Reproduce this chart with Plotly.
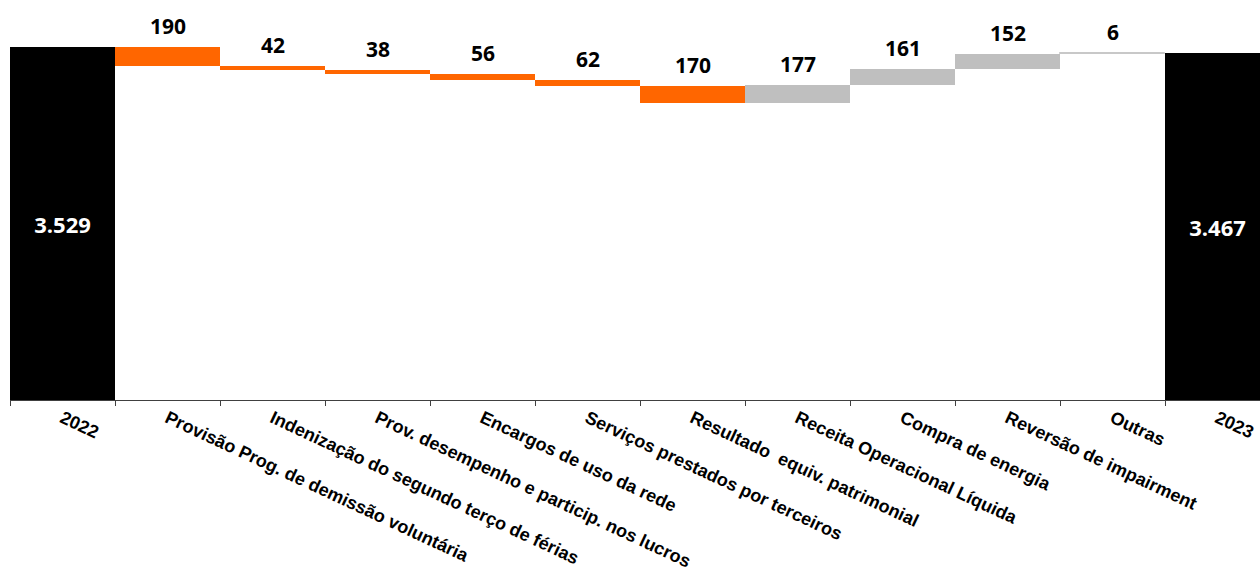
import plotly.graph_objects as go

categories = ["2022", "Provisão Prog. de demissão voluntária",
              "Indenização do segundo terço de férias",
              "Prov. desempenho e particip. nos lucros",
              "Encargos de uso da rede", "Serviços prestados por terceiros",
              "Resultado  equiv. patrimonial", "Receita Operacional Líquida",
              "Compra de energia", "Reversão de impairment", "Outras", "2023"]
values = [3529, -190, -42, -38, -56, -62, -170, 177, 161, 152, 6, 3467]
measures = ["total", "relative", "relative", "relative", "relative", "relative",
            "relative", "relative", "relative", "relative", "relative", "total"]

BLACK, ORANGE, GRAY = "#000000", "#FF6600", "#BFBFBF"

def fmt(v):
    return f"{abs(v):,}".replace(",", ".")

bases, heights, colors, lcolors, lwidths, tops = [], [], [], [], [], []
level = 0
for v, m in zip(values, measures):
    if m == "total":
        level = v
        bases.append(0); heights.append(v); colors.append(BLACK)
        lcolors.append(BLACK); lwidths.append(0); tops.append(v)
    elif v < 0:
        new = level + v
        bases.append(new); heights.append(-v); colors.append(ORANGE)
        lcolors.append(ORANGE); lwidths.append(0); tops.append(level)
        level = new
    else:
        new = level + v
        bases.append(level); heights.append(v)
        colors.append(GRAY)
        lcolors.append("#C8C8C8"); lwidths.append(1 if v < 20 else 0)
        tops.append(new)
        level = new

texts = [fmt(v) if m == "total" else "" for v, m in zip(values, measures)]

fig = go.Figure(go.Bar(
    x=categories, y=heights, base=bases,
    marker=dict(color=colors, line=dict(color=lcolors, width=lwidths)),
    text=texts, textposition="inside", insidetextanchor="middle",
    textfont=dict(family="Open Sans", size=22, color="white", weight="bold"),
    hoverinfo="skip",
))

for c, v, m, t in zip(categories, values, measures, tops):
    if m == "total":
        continue
    fig.add_annotation(x=c, y=t, text=fmt(v), showarrow=False,
                       yanchor="bottom", yshift=5,
                       font=dict(family="Open Sans", size=21, color="black",
                                 weight="bold"))

fig.update_layout(
    width=1260, height=573,
    margin=dict(l=10, r=0, t=0, b=173),
    plot_bgcolor="white", paper_bgcolor="white",
    bargap=0, showlegend=False,
    xaxis=dict(range=[-0.5, -0.5 + 1250 / 105], tickangle=25,
               showline=True, linecolor="#404040", linewidth=1,
               ticks="outside", tickson="boundaries", ticklen=5,
               tickcolor="#404040", showgrid=False,
               tickfont=dict(family="Liberation Sans", size=18, color="black",
                             weight="bold")),
    yaxis=dict(range=[0, 4000], visible=False, showgrid=False),
)

fig.write_html("out.html")
